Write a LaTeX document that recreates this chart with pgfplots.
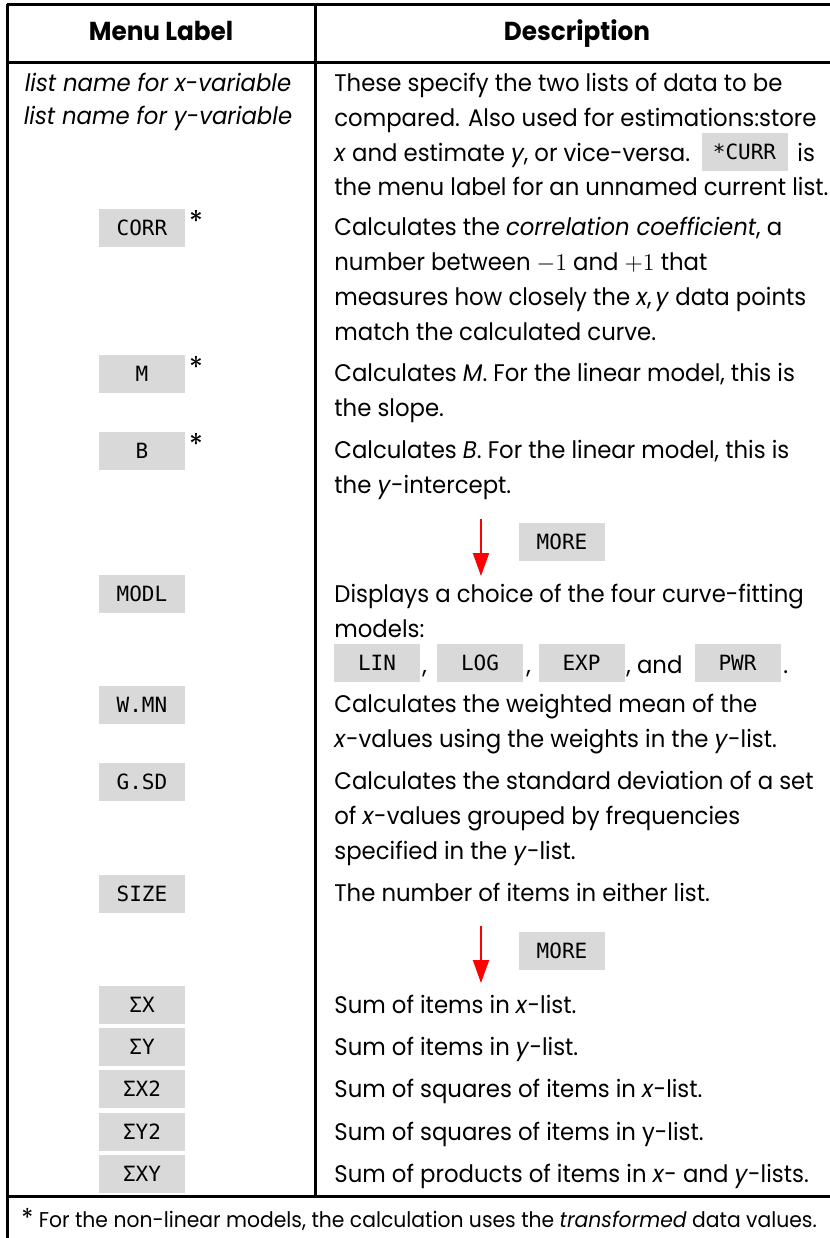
\documentclass[border=0pt]{standalone}
\usepackage{fontspec}
\setmainfont{Poppins}[FakeStretch=0.95]
\setmonofont{DejaVu Sans Mono}
\usepackage{pgfplots}
\pgfplotsset{compat=1.18}
\usetikzlibrary{arrows.meta}
\definecolor{keybg}{RGB}{217,217,217}
\tikzset{
  txt/.style={anchor=mid west, inner sep=0pt, font=\fontsize{12}{14}\selectfont},
  ctxt/.style={anchor=mid, inner sep=0pt, font=\fontsize{12}{14}\selectfont},
  hdr/.style={anchor=mid, inner sep=0pt, font=\bfseries\fontsize{13}{15}\selectfont},
  key/.style={fill=keybg, minimum width=43pt, minimum height=19pt, inner sep=0pt, anchor=center, font=\ttfamily\fontsize{10.5}{11}\selectfont, text=black},
  star/.style={anchor=base west, inner sep=0pt, font=\fontsize{15}{16}\selectfont},
  rule/.style={line width=1.5pt, black},
  marr/.style={red, line width=1pt, -{Triangle[width=8pt,length=11.5pt]}},
}
\begin{document}
\begin{tikzpicture}
\begin{axis}[
  width=415pt, height=619pt, scale only axis,
  xmin=0, xmax=830, ymin=0, ymax=1238, y dir=reverse,
  hide axis, clip=false,
]
% table rules
\addplot[rule] coordinates {(7,4) (830,4)};
\addplot[rule] coordinates {(7,4) (7,1238)};
\addplot[rule] coordinates {(7,62) (830,62)};
\addplot[rule] coordinates {(315,4) (315,1196)};
\addplot[rule] coordinates {(7,1196) (830,1196)};
% header
\node[hdr] at (axis cs:161,35) {Menu Label};
\node[hdr] at (axis cs:577,35) {Description};
% row 1
\node[ctxt] at (axis cs:158,86) {\itshape list name for x-variable};
\node[ctxt] at (axis cs:158,119) {\itshape list name for y-variable};
\node[txt] at (axis cs:334,86) {These specify the two lists of data to be};
\node[txt] at (axis cs:334,121) {compared. Also used for estimations:store};
\node[txt] at (axis cs:334,156) {\textit{x} and estimate \textit{y}, or vice-versa.};
\node[key] at (axis cs:744.5,152) {*CURR};
\node[txt] at (axis cs:797,156) {is};
\node[txt] at (axis cs:334,190) {the menu label for an unnamed current list.};
% CORR
\node[key] at (axis cs:142,228) {CORR};
\node[star] at (axis cs:189,232) {*};
\node[txt] at (axis cs:334,230) {Calculates the \textit{correlation coefficient}, a};
\node[txt] at (axis cs:334,265) {number between $-1$ and $+1$ that};
\node[txt] at (axis cs:334,300) {measures how closely the \textit{x},\,\textit{y} data points};
\node[txt] at (axis cs:334,335) {match the calculated curve.};
% M
\node[key] at (axis cs:142,374) {M};
\node[star] at (axis cs:189,378) {*};
\node[txt] at (axis cs:334,376) {Calculates \textit{M}. For the linear model, this is};
\node[txt] at (axis cs:334,411) {the slope.};
% B
\node[key] at (axis cs:142,451) {B};
\node[star] at (axis cs:189,455) {*};
\node[txt] at (axis cs:334,453) {Calculates \textit{B}. For the linear model, this is};
\node[txt] at (axis cs:334,488) {the \textit{y}-intercept.};
% MORE 1
\draw[marr] (axis cs:481,519) -- (axis cs:481,576);
\node[key] at (axis cs:562,542) {MORE};
% MODL
\node[key] at (axis cs:142,594) {MODL};
\node[txt] at (axis cs:334,597) {Displays a choice of the four curve-fitting};
\node[txt] at (axis cs:334,632) {models:};
\node[key] at (axis cs:377,663) {LIN};
\node[txt] at (axis cs:422,668) {,};
\node[key] at (axis cs:480,663) {LOG};
\node[txt] at (axis cs:526,668) {,};
\node[key] at (axis cs:581.5,663) {EXP};
\node[txt] at (axis cs:626,668) {, and};
\node[key] at (axis cs:737.5,663) {PWR};
\node[txt] at (axis cs:783,668) {.};
% W.MN
\node[key] at (axis cs:142,705) {W.MN};
\node[txt] at (axis cs:334,707) {Calculates the weighted mean of the};
\node[txt] at (axis cs:334,742) {\textit{x}-values using the weights in the \textit{y}-list.};
% G.SD
\node[key] at (axis cs:142,782) {G.SD};
\node[txt] at (axis cs:334,784) {Calculates the standard deviation of a set};
\node[txt] at (axis cs:334,819) {of \textit{x}-values grouped by frequencies};
\node[txt] at (axis cs:334,854) {specified in the \textit{y}-list.};
% SIZE
\node[key] at (axis cs:142,894) {SIZE};
\node[txt] at (axis cs:334,896) {The number of items in either list.};
% MORE 2
\draw[marr] (axis cs:481,926) -- (axis cs:481,983);
\node[key] at (axis cs:562,951) {MORE};
% sums
\node[key] at (axis cs:142,1005) {ΣX};
\node[txt] at (axis cs:334,1008) {Sum of items in \textit{x}-list.};
\node[key] at (axis cs:142,1047) {ΣY};
\node[txt] at (axis cs:334,1050) {Sum of items in \textit{y}-list.};
\node[key] at (axis cs:142,1089) {ΣX2};
\node[txt] at (axis cs:334,1092) {Sum of squares of items in \textit{x}-list.};
\node[key] at (axis cs:142,1132) {ΣY2};
\node[txt] at (axis cs:334,1135) {Sum of squares of items in y-list.};
\node[key] at (axis cs:142,1174) {ΣXY};
\node[txt] at (axis cs:334,1177) {Sum of products of items in \textit{x}- and \textit{y}-lists.};
% footer
\node[txt, font=\fontsize{10.7}{12}\selectfont] at (axis cs:21,1222) {{\fontsize{13}{13}\selectfont *} For the non-linear models, the calculation uses the \textit{transformed} data values.};
\end{axis}
\pgfresetboundingbox
\useasboundingbox (0,0) rectangle (415pt,619pt);
\end{tikzpicture}
\end{document}
